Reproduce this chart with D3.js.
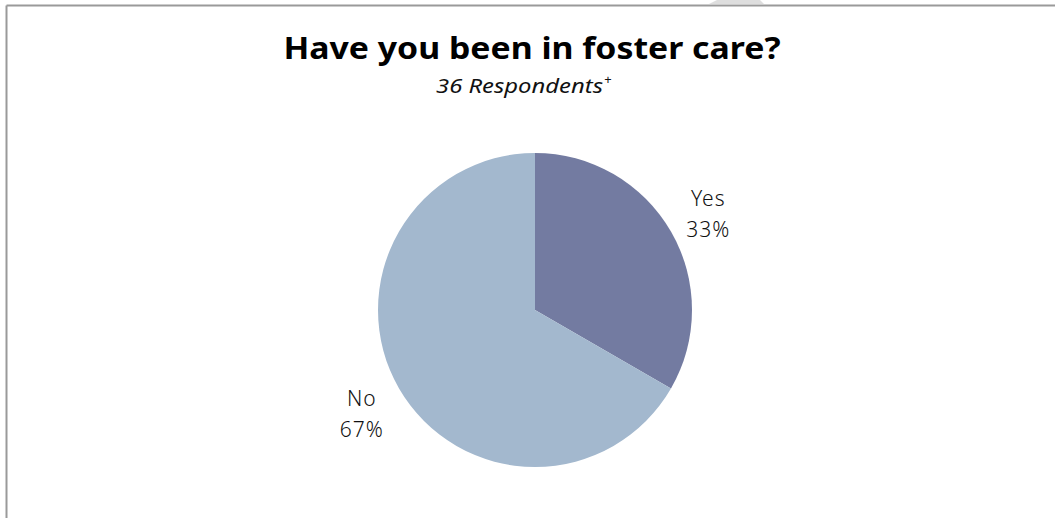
<!DOCTYPE html>
<html>
<head>
<meta charset="utf-8">
<script src="https://cdn.jsdelivr.net/npm/d3@7"></script>
<style>
  html, body { margin: 0; padding: 0; background: #ffffff; }
  svg { display: block; }
</style>
</head>
<body>
<svg id="chart" width="1055" height="518"></svg>
<script>
// Survey answers
const categories = ["Yes", "No"];
const values = [12, 24];
const percentLabels = ["33%", "67%"];
const colors = ["#737BA1", "#A3B8CE"];
const titleText = "Have you been in foster care?";
const subtitleText = "36 Respondents";

const width = 1055, height = 518;
const svg = d3.select("#chart");

// Frame lines (top and left edges)
svg.append("line").attr("x1", 6.5).attr("x2", width).attr("y1", 5.5).attr("y2", 5.5)
  .attr("stroke", "#9a9a9a").attr("stroke-width", 2);
svg.append("line").attr("x1", 6.5).attr("x2", 6.5).attr("y1", 5.5).attr("y2", height)
  .attr("stroke", "#9a9a9a").attr("stroke-width", 2);
// small tab at top edge
svg.append("path").attr("d", "M709,4 L717,0 L760,0 L764,4 Z").attr("fill", "#dedede");

// Title
svg.append("text")
  .attr("x", 532).attr("y", 59)
  .attr("text-anchor", "middle")
  .attr("font-family", "'Noto Sans', sans-serif")
  .attr("font-weight", "bold")
  .attr("font-size", 31)
  .attr("textLength", 497)
  .attr("lengthAdjust", "spacingAndGlyphs")
  .attr("fill", "#000")
  .text(titleText);

const sub = svg.append("text")
  .attr("x", 436).attr("y", 93)
  .attr("font-family", "'Noto Sans', sans-serif")
  .attr("font-style", "italic")
  .attr("font-size", 20)
  .attr("fill", "#111");
sub.append("tspan").attr("textLength", 167).attr("lengthAdjust", "spacingAndGlyphs").text(subtitleText);
sub.append("tspan").attr("font-size", 13).attr("dy", -9).attr("dx", 1).text("+");

// Pie
const cx = 535, cy = 310, radius = 157;
const pie = d3.pie().sort(null).value(d => d.value);
const data = categories.map((c, i) => ({ name: c, value: values[i], label: percentLabels[i], color: colors[i] }));
const arcs = pie(data);
const arc = d3.arc().innerRadius(0).outerRadius(radius);
const labelArc = d3.arc().innerRadius(200).outerRadius(200);

const g = svg.append("g").attr("transform", `translate(${cx},${cy})`);
g.selectAll("path.slice").data(arcs).join("path")
  .attr("class", "slice")
  .attr("d", arc)
  .attr("fill", d => d.data.color);

const labels = g.selectAll("text.lbl").data(arcs).join("text")
  .attr("class", "lbl")
  .attr("text-anchor", "middle")
  .attr("font-family", "'Noto Sans', sans-serif")
  .attr("font-weight", 300)
  .attr("font-size", 21)
  .attr("letter-spacing", 1)
  .attr("fill", "#111")
  .attr("transform", d => `translate(${labelArc.centroid(d)})`);
labels.append("tspan").attr("x", 0).attr("y", -4).text(d => d.data.name);
labels.append("tspan").attr("x", 0).attr("y", 27).text(d => d.data.label);
</script>
</body>
</html>
